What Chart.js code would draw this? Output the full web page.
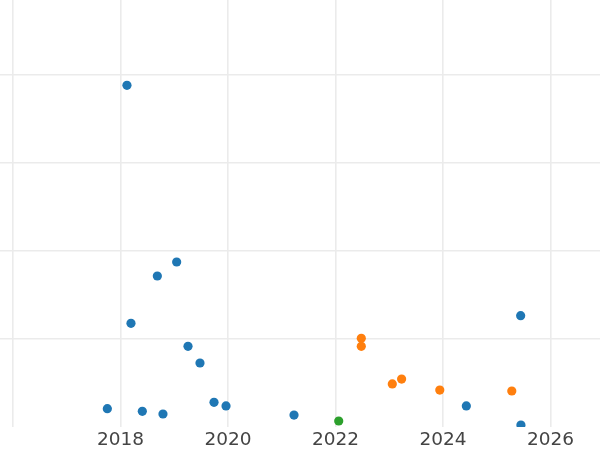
<!DOCTYPE html>
<html>
<head>
<meta charset="utf-8">
<script src="https://cdn.jsdelivr.net/npm/chart.js@4/dist/chart.umd.min.js"></script>
<style>
html,body{margin:0;padding:0;background:#fff;}
#wrap{width:600px;height:450px;position:relative;}
</style>
</head>
<body>
<div id="wrap"><canvas id="c" width="600" height="450"></canvas></div>
<script>
// Series data (x = year as decimal, y = value)
const blueX = [2018.12, 2018.195, 2019.256, 2019.479, 2017.755, 2018.406, 2018.79, 2019.74, 2019.963, 2021.228, 2019.045, 2018.685, 2025.445, 2024.434, 2025.45];
const blueY = [38.83, 11.78, 9.17, 7.27, 2.08, 1.78, 1.48, 2.8, 2.39, 1.36, 18.75, 17.16, 12.65, 2.39, 0.23];
const orangeX = [2022.48, 2022.48, 2023.057, 2023.23, 2023.94, 2025.28];
const orangeY = [10.08, 9.17, 4.89, 5.45, 4.2, 4.09];
const greenX = [2022.06];
const greenY = [0.68];
const xTicks = [2016, 2018, 2020, 2022, 2024, 2026];
const xTickLabels = ['', '2018', '2020', '2022', '2024', '2026'];
const yTicks = [10, 20, 30, 40];

const toPts = (xs, ys) => xs.map((x, i) => ({x: x, y: ys[i]}));
const noPad = (s) => { s.paddingLeft = 0; s.paddingRight = 0; s.paddingTop = 0; s.paddingBottom = 0; };

new Chart(document.getElementById('c'), {
  type: 'scatter',
  data: {
    datasets: [
      {data: toPts(blueX, blueY), backgroundColor: '#1f77b4', borderWidth: 0, pointRadius: 4.6, clip: 0},
      {data: toPts(orangeX, orangeY), backgroundColor: '#ff7f0e', borderWidth: 0, pointRadius: 4.6, clip: 0},
      {data: toPts(greenX, greenY), backgroundColor: '#2ca02c', borderWidth: 0, pointRadius: 4.6, clip: 0}
    ]
  },
  options: {
    responsive: false,
    animation: false,
    layout: {padding: 0, autoPadding: false},
    plugins: {legend: {display: false}, tooltip: {enabled: false}},
    scales: {
      x: {
        type: 'linear',
        min: 2015.758,
        max: 2026.921,
        afterBuildTicks: (s) => { s.ticks = xTicks.map(v => ({value: v})); },
        afterFit: (s) => { s.height = 23; noPad(s); },
        border: {display: false},
        grid: {color: '#ebebeb', lineWidth: 1.6, drawTicks: false},
        ticks: {
          padding: 2,
          color: '#444444',
          font: {family: 'DejaVu Sans', size: 18.5},
          maxRotation: 0,
          autoSkip: false,
          callback: (v) => xTickLabels[xTicks.indexOf(v)] ?? ''
        }
      },
      y: {
        type: 'linear',
        min: 0,
        max: 48.52,
        afterBuildTicks: (s) => { s.ticks = yTicks.map(v => ({value: v})); },
        afterFit: (s) => { s.width = 0; noPad(s); },
        border: {display: false},
        grid: {color: '#ebebeb', lineWidth: 1.6, drawTicks: false},
        ticks: {display: false}
      }
    }
  }
});
</script>
</body>
</html>
